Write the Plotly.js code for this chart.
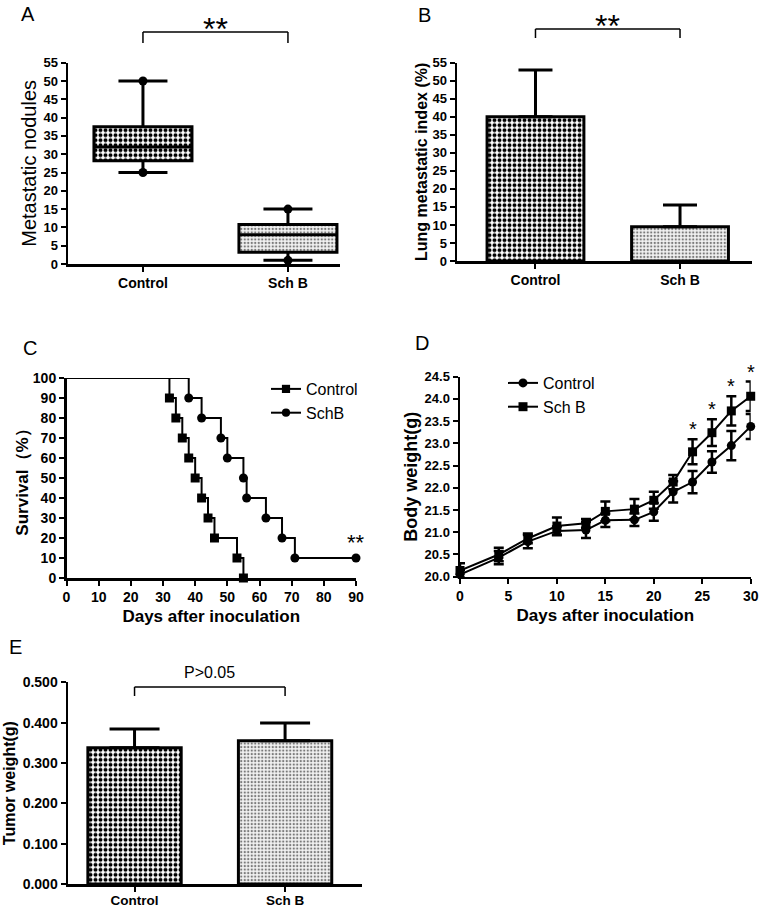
<!DOCTYPE html>
<html><head><meta charset="utf-8">
<script src="https://cdn.plot.ly/plotly-3.0.1.min.js"></script>
<style>html,body{margin:0;padding:0;background:#fff}#chart{width:764px;height:908px}</style>
</head><body><div id="chart"></div><script>
// ---------- data ----------
const groups = ['Control', 'Sch B'];
// A: metastatic nodules (box summary)
const nodQ1 = [28.2, 3.2];
const nodMedian = [32, 8];
const nodQ3 = [37.5, 10.8];
const nodMin = [25, 1];
const nodMax = [50, 15];
// B: lung metastatic index (%)
const lungIndex = [40, 9.5];
const lungErr = [13, 6];
// C: survival (%)
const ctrlDays = [0, 32, 34, 36, 38, 40, 42, 44, 46, 53, 55];
const ctrlSurv = [100, 90, 80, 70, 60, 50, 40, 30, 20, 10, 0];
const schDays = [0, 38, 42, 48, 50, 55, 56, 62, 67, 71, 90];
const schSurv = [100, 90, 80, 70, 60, 50, 40, 30, 20, 10, 10];
// D: body weight (g)
const bwDays = [0, 4, 7, 10, 13, 15, 18, 20, 22, 24, 26, 28, 30];
const bwCtrl = [20.05, 20.43, 20.79, 21.03, 21.05, 21.27, 21.28, 21.46, 21.91, 22.13, 22.58, 22.95, 23.38];
const bwCtrlErr = [0.10, 0.15, 0.15, 0.10, 0.18, 0.15, 0.14, 0.20, 0.24, 0.25, 0.24, 0.33, 0.28];
const bwSch = [20.14, 20.50, 20.86, 21.14, 21.20, 21.47, 21.52, 21.72, 22.13, 22.81, 23.24, 23.73, 24.06];
const bwSchErr = [0.16, 0.15, 0.11, 0.19, 0.10, 0.22, 0.23, 0.19, 0.16, 0.28, 0.30, 0.33, 0.33];
const bwSigDays = [24, 26, 28, 30];
// E: tumor weight (g)
const tumorW = [0.338, 0.355];
const tumorErr = [0.046, 0.044];

// ---------- helpers ----------
const FONT = 'Liberation Sans, Arial, Helvetica, sans-serif';
const W = 764, H = 908;
const fx = p => p / W;          // pixel -> paper x
const fy = p => 1 - p / H;      // pixel -> paper y

function ax(extra) {
  return Object.assign({
    showline: true, linewidth: 2.5, linecolor: '#000',
    ticks: 'outside', ticklen: 5, tickwidth: 2, tickcolor: '#000',
    showgrid: false, zeroline: false, fixedrange: true,
    tickfont: {family: FONT, size: 13, color: '#000', weight: 'bold'}
  }, extra);
}
const patCtrl = {shape: '.', bgcolor: '#ffffff', fgcolor: '#000000', size: 5, solidity: 0.5};
const patSch = {shape: '.', bgcolor: '#f2f2f2', fgcolor: '#7a7a7a', size: 3.5, solidity: 0.35};
const pattern = {
  shape: [patCtrl.shape, patSch.shape],
  bgcolor: [patCtrl.bgcolor, patSch.bgcolor],
  fgcolor: [patCtrl.fgcolor, patSch.fgcolor],
  size: [patCtrl.size, patSch.size],
  solidity: [patCtrl.solidity, patSch.solidity]
};

// ---------- traces ----------
const traces = [];
// A
traces.push({type: 'bar', x: groups, y: nodQ3.map((v, i) => v - nodQ1[i]), base: nodQ1, width: 0.676,
  marker: {color: '#fff', line: {width: 0}, pattern: pattern}, xaxis: 'x', yaxis: 'y', showlegend: false, hoverinfo: 'skip'});
traces.push({type: 'box', x: groups, q1: nodQ1, median: nodMedian, q3: nodQ3, lowerfence: nodMin, upperfence: nodMax,
  width: 0.676, whiskerwidth: 0.5, boxpoints: false, fillcolor: 'rgba(0,0,0,0)', line: {color: '#000', width: 3},
  xaxis: 'x', yaxis: 'y', showlegend: false});
traces.push({type: 'scatter', mode: 'markers', x: groups.concat(groups), y: nodMin.concat(nodMax),
  marker: {color: '#000', size: 9}, cliponaxis: false, xaxis: 'x', yaxis: 'y', showlegend: false});
// B
traces.push({type: 'bar', x: groups, y: lungIndex, width: 0.67,
  marker: {color: '#fff', line: {color: '#000', width: 3}, pattern: pattern},
  error_y: {type: 'data', symmetric: false, array: lungErr, arrayminus: [0, 0], color: '#000', thickness: 3, width: 17},
  xaxis: 'x2', yaxis: 'y2', showlegend: false});
// C
traces.push({type: 'scatter', mode: 'lines+markers', name: 'Control', x: ctrlDays, y: ctrlSurv,
  line: {shape: 'hv', color: '#000', width: 2},
  marker: {symbol: 'square', size: ctrlDays.map((d, i) => i === 0 ? 0 : 9), color: '#000', opacity: 1, line: {width: 0}},
  cliponaxis: false, xaxis: 'x3', yaxis: 'y3', legend: 'legend'});
traces.push({type: 'scatter', mode: 'lines+markers', name: 'SchB', x: schDays, y: schSurv,
  line: {shape: 'hv', color: '#000', width: 2},
  marker: {symbol: 'circle', size: schDays.map((d, i) => i === 0 ? 0 : 9), color: '#000', opacity: 1, line: {width: 0}},
  cliponaxis: false, xaxis: 'x3', yaxis: 'y3', legend: 'legend'});
// D
traces.push({type: 'scatter', mode: 'lines+markers', name: 'Control', x: bwDays, y: bwCtrl,
  line: {color: '#000', width: 2}, marker: {symbol: 'circle', size: 9, color: '#000'},
  error_y: {type: 'data', array: bwCtrlErr, color: '#000', thickness: 2.5, width: 5},
  cliponaxis: false, xaxis: 'x4', yaxis: 'y4', legend: 'legend2'});
traces.push({type: 'scatter', mode: 'lines+markers', name: 'Sch B', x: bwDays, y: bwSch,
  line: {color: '#000', width: 2}, marker: {symbol: 'square', size: 9, color: '#000'},
  error_y: {type: 'data', array: bwSchErr, color: '#000', thickness: 2.5, width: 5},
  cliponaxis: false, xaxis: 'x4', yaxis: 'y4', legend: 'legend2'});
// E
traces.push({type: 'bar', x: groups, y: tumorW, width: 0.62,
  marker: {color: '#fff', line: {color: '#000', width: 3}, pattern: pattern},
  error_y: {type: 'data', symmetric: false, array: tumorErr, arrayminus: [0, 0], color: '#000', thickness: 3, width: 25},
  xaxis: 'x5', yaxis: 'y5', showlegend: false});

// ---------- annotations & brackets ----------
const annotations = [];
const shapes = [];
function letter(t, x, y) {
  annotations.push({text: t, xref: 'paper', yref: 'paper', x: fx(x), y: fy(y), xanchor: 'center', yanchor: 'middle',
    showarrow: false, font: {family: FONT, size: 20, color: '#000'}});
}
letter('A', 28, 14); letter('B', 425, 15); letter('C', 30, 348); letter('D', 422, 343); letter('E', 15, 647);

function bracket(xr, yTop, yBot, label, labelY, size) {
  const style = {color: '#000', width: 1.5};
  shapes.push({type: 'line', xref: xr, yref: 'paper', x0: 0, x1: 1, y0: fy(yTop), y1: fy(yTop), line: style});
  shapes.push({type: 'line', xref: xr, yref: 'paper', x0: 0, x1: 0, y0: fy(yTop), y1: fy(yBot), line: style});
  shapes.push({type: 'line', xref: xr, yref: 'paper', x0: 1, x1: 1, y0: fy(yTop), y1: fy(yBot), line: style});
  annotations.push({text: label, xref: xr, yref: 'paper', x: 0.5, y: fy(labelY), xanchor: 'center', yanchor: 'middle',
    showarrow: false, font: {family: FONT, size: size, color: '#000'}});
}
bracket('x', 32, 43, '**', 29, 32);
bracket('x2', 29, 38, '**', 26, 32);
bracket('x5', 687, 696, 'P>0.05', 672, 16);

// C: significance stars at end of SchB curve
annotations.push({text: '**', xref: 'x3', yref: 'y3', x: schDays[schDays.length - 1], y: schSurv[schSurv.length - 1],
  xanchor: 'center', yanchor: 'bottom', yshift: 1, showarrow: false, font: {family: FONT, size: 22, color: '#000'}});
// D: stars above Sch B points
bwSigDays.forEach(d => {
  const i = bwDays.indexOf(d);
  annotations.push({text: '*', xref: 'x4', yref: 'y4', x: d, y: bwSch[i] + bwSchErr[i],
    xanchor: 'center', yanchor: 'bottom', yshift: -3, showarrow: false, font: {family: FONT, size: 20, color: '#000'}});
});

// ---------- layout ----------
const layout = {
  width: W, height: H, margin: {l: 0, r: 0, t: 0, b: 0},
  paper_bgcolor: '#fff', plot_bgcolor: 'rgba(0,0,0,0)',
  font: {family: FONT, color: '#000'},
  hovermode: false,
  // A
  xaxis: ax({type: 'category', domain: [fx(68), fx(340)], range: [-0.517, 1.359], anchor: 'y',
    tickfont: {family: FONT, size: 14, color: '#000', weight: 'bold'}}),
  yaxis: ax({domain: [fy(264), fy(62.7)], range: [0, 55], tick0: 0, dtick: 5, anchor: 'x',
    title: {text: 'Metastatic nodules', font: {family: FONT, size: 20, color: '#000'}, standoff: 2}}),
  // B
  xaxis2: ax({type: 'category', domain: [fx(457), fx(752)], range: [-0.543, 1.498], anchor: 'y2',
    tickfont: {family: FONT, size: 14, color: '#000', weight: 'bold'}}),
  yaxis2: ax({domain: [fy(261), fy(62.7)], range: [0, 55], tick0: 0, dtick: 5, anchor: 'x2',
    title: {text: 'Lung metastatic index (%)', font: {family: FONT, size: 16, color: '#000', weight: 'bold'}, standoff: 1}}),
  // C
  xaxis3: ax({domain: [fx(66.5), fx(356)], range: [0, 90], tick0: 0, dtick: 10, anchor: 'y3',
    tickfont: {family: FONT, size: 14, color: '#000', weight: 'bold'},
    title: {text: 'Days after inoculation', font: {family: FONT, size: 17, color: '#000', weight: 'bold'}, standoff: 6}}),
  yaxis3: ax({domain: [fy(578), fy(378)], range: [0, 100], tick0: 0, dtick: 10, anchor: 'x3',
    tickfont: {family: FONT, size: 14, color: '#000', weight: 'bold'},
    title: {text: 'Survival（%）', font: {family: FONT, size: 17, color: '#000', weight: 'bold'}, standoff: 0}}),
  // D
  xaxis4: ax({domain: [fx(460), fx(750.7)], range: [0, 30], tick0: 0, dtick: 5, anchor: 'y4',
    tickfont: {family: FONT, size: 14, color: '#000', weight: 'bold'},
    title: {text: 'Days after inoculation', font: {family: FONT, size: 17, color: '#000', weight: 'bold'}, standoff: 6}}),
  yaxis4: ax({domain: [fy(576.7), fy(376.7)], range: [20, 24.5], tick0: 20, dtick: 0.5, tickformat: '.1f', anchor: 'x4',
    tickfont: {family: FONT, size: 13, color: '#000', weight: 'bold'},
    title: {text: 'Body weight(g)', font: {family: FONT, size: 18, color: '#000', weight: 'bold'}, standoff: 3}}),
  // E
  xaxis5: ax({type: 'category', domain: [fx(68), fx(362)], range: [-0.442, 1.511], anchor: 'y5',
    ticklabelstandoff: -3,
    tickfont: {family: FONT, size: 13.5, color: '#000', weight: 'bold'}}),
  yaxis5: ax({domain: [fy(884), fy(682.3)], range: [0, 0.5], tick0: 0, dtick: 0.1, tickformat: '.3f', anchor: 'x5',
    tickfont: {family: FONT, size: 14, color: '#000', weight: 'bold'},
    title: {text: 'Tumor weight(g)', font: {family: FONT, size: 16, color: '#000', weight: 'bold'}, standoff: 3}}),
  showlegend: true,
  legend: {x: fx(266), y: fy(372), xanchor: 'left', yanchor: 'top', bgcolor: 'rgba(0,0,0,0)',
    font: {family: FONT, size: 16, color: '#000'}, itemwidth: 30, tracegroupgap: 0},
  legend2: {x: fx(503), y: fy(366), xanchor: 'left', yanchor: 'top', bgcolor: 'rgba(0,0,0,0)',
    font: {family: FONT, size: 16, color: '#000'}, itemwidth: 30, tracegroupgap: 0},
  annotations: annotations,
  shapes: shapes
};

Plotly.newPlot('chart', traces, layout, {displayModeBar: false, staticPlot: true});
</script></body></html>
